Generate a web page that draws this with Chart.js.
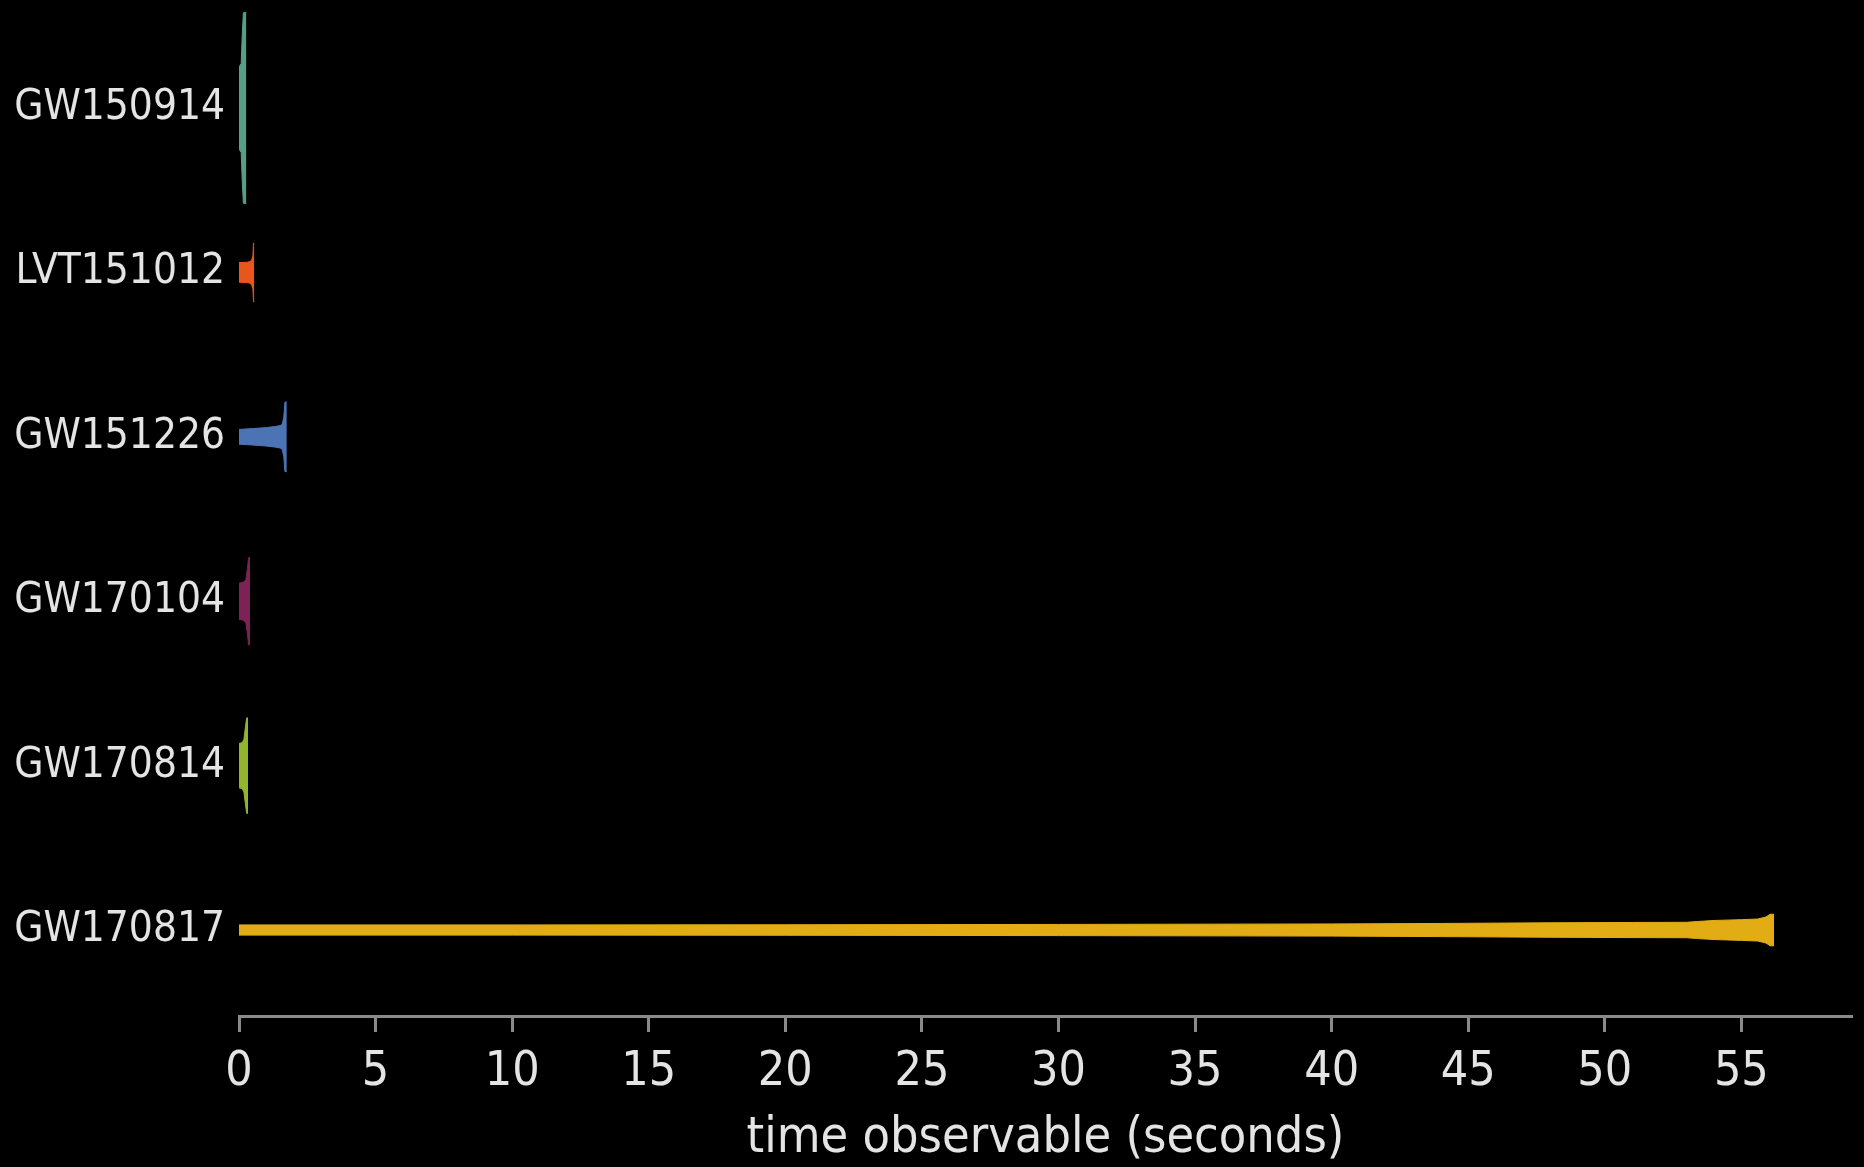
<!DOCTYPE html>
<html>
<head>
<meta charset="utf-8">
<title>time observable</title>
<script src="https://cdn.jsdelivr.net/npm/chart.js@4.4.1/dist/chart.umd.min.js"></script>
<style>
  html, body { margin: 0; padding: 0; background: #000; }
  #wrap { width: 1864px; height: 1167px; }
</style>
</head>
<body>
<div id="wrap"><canvas id="chart" width="1864" height="1167"></canvas></div>
<script>
// Events, top row first
const events = ['GW150914', 'LVT151012', 'GW151226', 'GW170104', 'GW170814', 'GW170817'];
const colors = ['#579e87', '#e8561c', '#4c74b5', '#7c2254', '#93b52c', '#e2ad14'];

// Signal envelopes: sample times (s) and half-amplitude (row units)
const t150914 = [0, 0.08, 0.12, 0.16, 0.27];
const a150914 = [0.25, 0.27, 0.45, 0.58, 0.58];

const t151012 = [0, 0.30, 0.40, 0.46, 0.51, 0.53, 0.56];
const a151012 = [0.06, 0.062, 0.066, 0.075, 0.10, 0.178, 0.178];

const t151226 = [0, 0.5, 1.0, 1.3, 1.5, 1.58, 1.64, 1.68, 1.75];
const a151226 = [0.045, 0.05, 0.056, 0.062, 0.068, 0.075, 0.12, 0.21, 0.213];

const t170104 = [0, 0.15, 0.25, 0.31, 0.35, 0.41];
const a170104 = [0.11, 0.115, 0.13, 0.2, 0.265, 0.265];

const t170814 = [0, 0.12, 0.18, 0.24, 0.28, 0.33];
const a170814 = [0.135, 0.14, 0.16, 0.24, 0.29, 0.29];

const t170817 = [0, 10, 20, 30, 40, 44, 48, 51, 53, 53.4, 54, 55, 55.6, 55.9, 56.05, 56.2];
const a170817 = [0.031, 0.031, 0.032, 0.034, 0.037, 0.040, 0.044, 0.046, 0.047, 0.052, 0.058, 0.063, 0.067, 0.079, 0.096, 0.096];

const envelopes = [
  [t150914, a150914],
  [t151012, a151012],
  [t151226, a151226],
  [t170104, a170104],
  [t170814, a170814],
  [t170817, a170817]
];

const xTicks = [0, 5, 10, 15, 20, 25, 30, 35, 40, 45, 50, 55];
const xTitle = 'time observable (seconds)';

const FONT = "'DejaVu Sans Condensed', 'DejaVu Sans', sans-serif";
const AXIS_GREY = '#8a8a8a';
const TEXT = '#e4e4e4';

// Each event sits on its own row: top row = highest y value
const datasets = [];
envelopes.forEach(([ts, as], i) => {
  const row = events.length - 1 - i;
  const upper = ts.map((t, k) => ({ x: t, y: row + as[k] }));
  const lower = ts.map((t, k) => ({ x: t, y: row - as[k] }));
  datasets.push({
    label: events[i] + ' +',
    data: upper,
    borderColor: colors[i],
    backgroundColor: colors[i],
    borderWidth: 1,
    pointRadius: 0,
    tension: 0,
    fill: false
  });
  datasets.push({
    label: events[i] + ' -',
    data: lower,
    borderColor: colors[i],
    backgroundColor: colors[i],
    borderWidth: 1,
    pointRadius: 0,
    tension: 0,
    fill: '-1'
  });
});

new Chart(document.getElementById('chart'), {
  type: 'line',
  data: { datasets },
  options: {
    responsive: false,
    animation: false,
    devicePixelRatio: 1,
    layout: { padding: { left: 0, right: 12, top: 0, bottom: 0 } },
    plugins: { legend: { display: false }, tooltip: { enabled: false } },
    elements: { line: { borderJoinStyle: 'miter' } },
    scales: {
      x: {
        type: 'linear',
        min: 0,
        max: 59.05,
        afterFit: (s) => { s.height = 151; },
        afterBuildTicks: (s) => { s.ticks = xTicks.map(v => ({ value: v })); },
        border: { display: true, color: AXIS_GREY, width: 3 },
        grid: {
          display: true,
          drawOnChartArea: false,
          drawTicks: true,
          tickLength: 16,
          tickWidth: 3,
          tickColor: AXIS_GREY
        },
        ticks: {
          color: TEXT,
          padding: 12,
          maxRotation: 0,
          autoSkip: false,
          font: { family: FONT, size: 48 }
        },
        title: {
          display: true,
          text: xTitle,
          color: TEXT,
          padding: { top: 0, bottom: 0 },
          font: { family: FONT, size: 50, lineHeight: 1.1 }
        }
      },
      y: {
        type: 'linear',
        min: -0.523,
        max: 5.657,
        afterFit: (s) => { s.width = 239; s.paddingTop = 0; s.paddingBottom = 0; },
        afterBuildTicks: (s) => { s.ticks = events.map((_, i) => ({ value: i })); },
        border: { display: false },
        grid: { display: false, drawTicks: false },
        ticks: {
          color: TEXT,
          padding: 14,
          autoSkip: false,
          font: { family: FONT, size: 42 },
          callback: (v) => events[events.length - 1 - v]
        }
      }
    }
  }
});
</script>
</body>
</html>
